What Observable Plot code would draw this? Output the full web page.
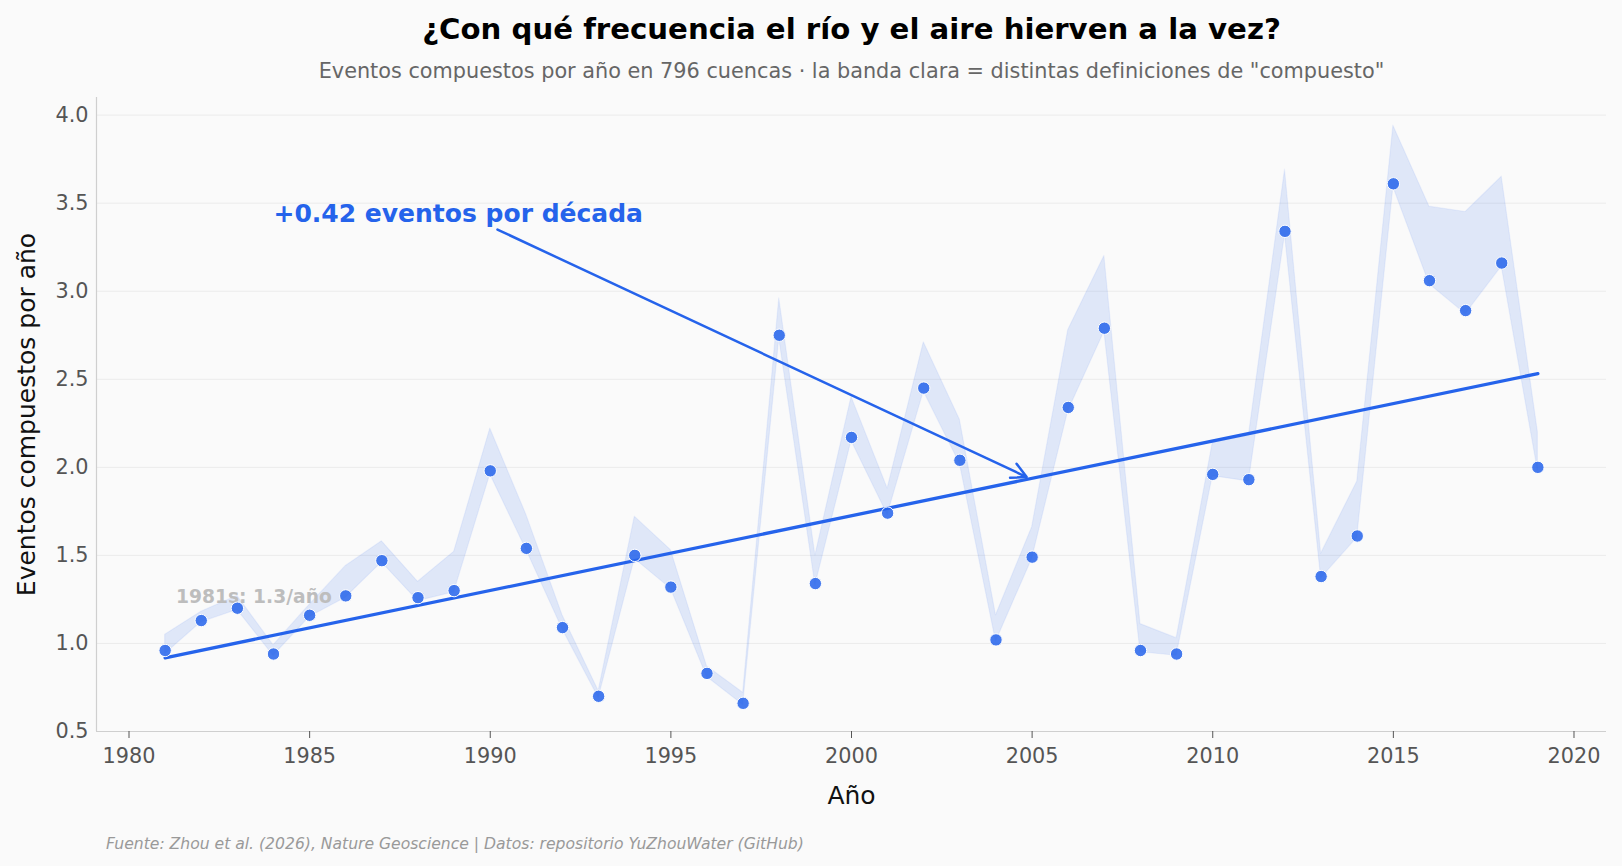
<!DOCTYPE html>
<html lang="es">
<head>
<meta charset="utf-8">
<title>¿Con qué frecuencia el río y el aire hierven a la vez?</title>
<script src="https://cdn.jsdelivr.net/npm/d3@7"></script>
<script src="https://cdn.jsdelivr.net/npm/@observablehq/plot@0.6"></script>
<style>
  html, body { margin: 0; padding: 0; background: #fafafa; }
  #chart svg { display: block; }
</style>
</head>
<body>
<div id="chart"></div>
<script>
// Compound river/air heat events per year (mean across 796 basins)
const years = [1981, 1982, 1983, 1984, 1985, 1986, 1987, 1988, 1989, 1990,
               1991, 1992, 1993, 1994, 1995, 1996, 1997, 1998, 1999, 2000,
               2001, 2002, 2003, 2004, 2005, 2006, 2007, 2008, 2009, 2010,
               2011, 2012, 2013, 2014, 2015, 2016, 2017, 2018, 2019];
const events = [0.96, 1.13, 1.20, 0.94, 1.16, 1.27, 1.47, 1.26, 1.30, 1.98,
                1.54, 1.09, 0.70, 1.50, 1.32, 0.83, 0.66, 2.75, 1.34, 2.17,
                1.74, 2.45, 2.04, 1.02, 1.49, 2.34, 2.79, 0.96, 0.94, 1.96,
                1.93, 3.34, 1.38, 1.61, 3.61, 3.06, 2.89, 3.16, 2.00];
// Range across alternative definitions of a "compound" event
const bandLow = [0.94, 1.12, 1.19, 0.93, 1.15, 1.26, 1.46, 1.24, 1.29, 1.96,
                 1.53, 1.08, 0.69, 1.48, 1.31, 0.81, 0.65, 2.73, 1.33, 2.15,
                 1.73, 2.43, 2.02, 1.01, 1.48, 2.32, 2.77, 0.95, 0.93, 1.95,
                 1.92, 3.32, 1.37, 1.60, 3.59, 3.04, 2.87, 3.14, 1.98];
const bandHigh = [1.05, 1.18, 1.27, 0.99, 1.22, 1.44, 1.58, 1.35, 1.52, 2.22,
                  1.73, 1.16, 0.73, 1.72, 1.53, 0.87, 0.72, 2.96, 1.50, 2.40,
                  1.88, 2.71, 2.27, 1.16, 1.66, 2.78, 3.20, 1.11, 1.03, 2.14,
                  2.18, 3.69, 1.51, 1.92, 3.94, 3.48, 3.45, 3.65, 2.20];

const xTicks = [1980, 1985, 1990, 1995, 2000, 2005, 2010, 2015, 2020];
const yTicks = [0.5, 1.0, 1.5, 2.0, 2.5, 3.0, 3.5, 4.0];

const titleText = "¿Con qué frecuencia el río y el aire hierven a la vez?";
const subtitleText = "Eventos compuestos por año en 796 cuencas · la banda clara = distintas definiciones de \"compuesto\"";
const captionText = "Fuente: Zhou et al. (2026), Nature Geoscience | Datos: repositorio YuZhouWater (GitHub)";

const rows = years.map((year, i) => ({year, value: events[i], low: bandLow[i], high: bandHigh[i]}));

// Least-squares trend
const mx = d3.mean(years), my = d3.mean(events);
const slope = d3.sum(rows, d => (d.year - mx) * (d.value - my)) / d3.sum(rows, d => (d.year - mx) ** 2);
const trendAt = yr => my + slope * (yr - mx);
const trendLabel = `+${(slope * 10).toFixed(2)} eventos por década`;

// Average of the first decade of records
const firstDecade = rows.filter(d => d.year <= 1990);
const firstDecadeLabel = `1981s: ${d3.mean(firstDecade, d => d.value).toFixed(1)}/año`;

const blue = "#2563eb";
const font = "'DejaVu Sans', 'Liberation Sans', sans-serif";
const xDomain = [1979.1, 2020.9];
const yDomain = [0.5, 4.1];

const chart = Plot.plot({
  width: 1622,
  height: 866,
  marginTop: 97,
  marginLeft: 96,
  marginRight: 16,
  marginBottom: 135,
  style: {background: "#fafafa", fontFamily: font, fontSize: "20.8px", color: "#555"},
  x: {domain: xDomain},
  y: {domain: yDomain},
  marks: [
    Plot.gridY(yTicks, {stroke: "#ebebeb", strokeOpacity: 1, strokeWidth: 1}),
    Plot.ruleY([yDomain[0]], {stroke: "#cfcfcf", strokeWidth: 1.2}),
    Plot.ruleX([xDomain[0]], {stroke: "#cfcfcf", strokeWidth: 1.2}),
    Plot.axisX({ticks: xTicks, tickFormat: "d", tickSize: 7, tickPadding: 10, stroke: "#555", fill: "#555", label: null}),
    Plot.axisY({ticks: yTicks, tickFormat: ".1f", tickSize: 0, tickPadding: 8, fill: "#555", label: null}),
    // definition band
    Plot.areaY(rows, {x: "year", y1: "low", y2: "high", fill: blue, fillOpacity: 0.12,
                      stroke: blue, strokeOpacity: 0.07, strokeWidth: 1.2}),
    // trend line
    Plot.linearRegressionY(rows, {x: "year", y: "value", ci: 0, stroke: blue, strokeWidth: 3.3}),
    Plot.text([firstDecadeLabel], {x: 1981.3, y: 1.265, text: d => d, textAnchor: "start",
                                   fill: "#bdbdbd", fontWeight: "bold", fontSize: 18.7}),
    Plot.dot(rows, {x: "year", y: "value", r: 6.2, fill: blue, fillOpacity: 0.85,
                    stroke: "white", strokeWidth: 1}),
    Plot.arrow([{x1: 1990.2, y1: 3.35, x2: 2004.95, y2: trendAt(2004.95)}], {
      x1: "x1", y1: "y1", x2: "x2", y2: "y2", stroke: blue, strokeWidth: 2.5,
      headLength: 10, headAngle: 55, insetEnd: 4
    }),
    Plot.text([trendLabel], {x: 1984, y: 3.44, text: d => d, textAnchor: "start",
                             fill: blue, fontWeight: "bold", fontSize: 25}),
    // titles, axis labels and source
    Plot.text([titleText], {frameAnchor: "top", dy: -68, lineAnchor: "middle", text: d => d,
                            fontSize: 29.2, fontWeight: "bold", fill: "#000"}),
    Plot.text([subtitleText], {frameAnchor: "top", dy: -26, lineAnchor: "middle", text: d => d,
                               fontSize: 20.8, fill: "#666"}),
    Plot.text(["Año"], {frameAnchor: "bottom", dy: 64, lineAnchor: "middle", text: d => d,
                        fontSize: 25, fill: "#111"}),
    Plot.text(["Eventos compuestos por año"], {frameAnchor: "left", dx: -70, rotate: -90,
                                                textAnchor: "middle", lineAnchor: "middle",
                                                text: d => d, fontSize: 25, fill: "#111"}),
    Plot.text([captionText], {frameAnchor: "bottom-left", dx: 9.5, dy: 112, lineAnchor: "middle",
                              text: d => d, textAnchor: "start", fontSize: 15.6,
                              fontStyle: "italic", fill: "#999"})
  ]
});

document.getElementById("chart").appendChild(chart);
</script>
</body>
</html>
